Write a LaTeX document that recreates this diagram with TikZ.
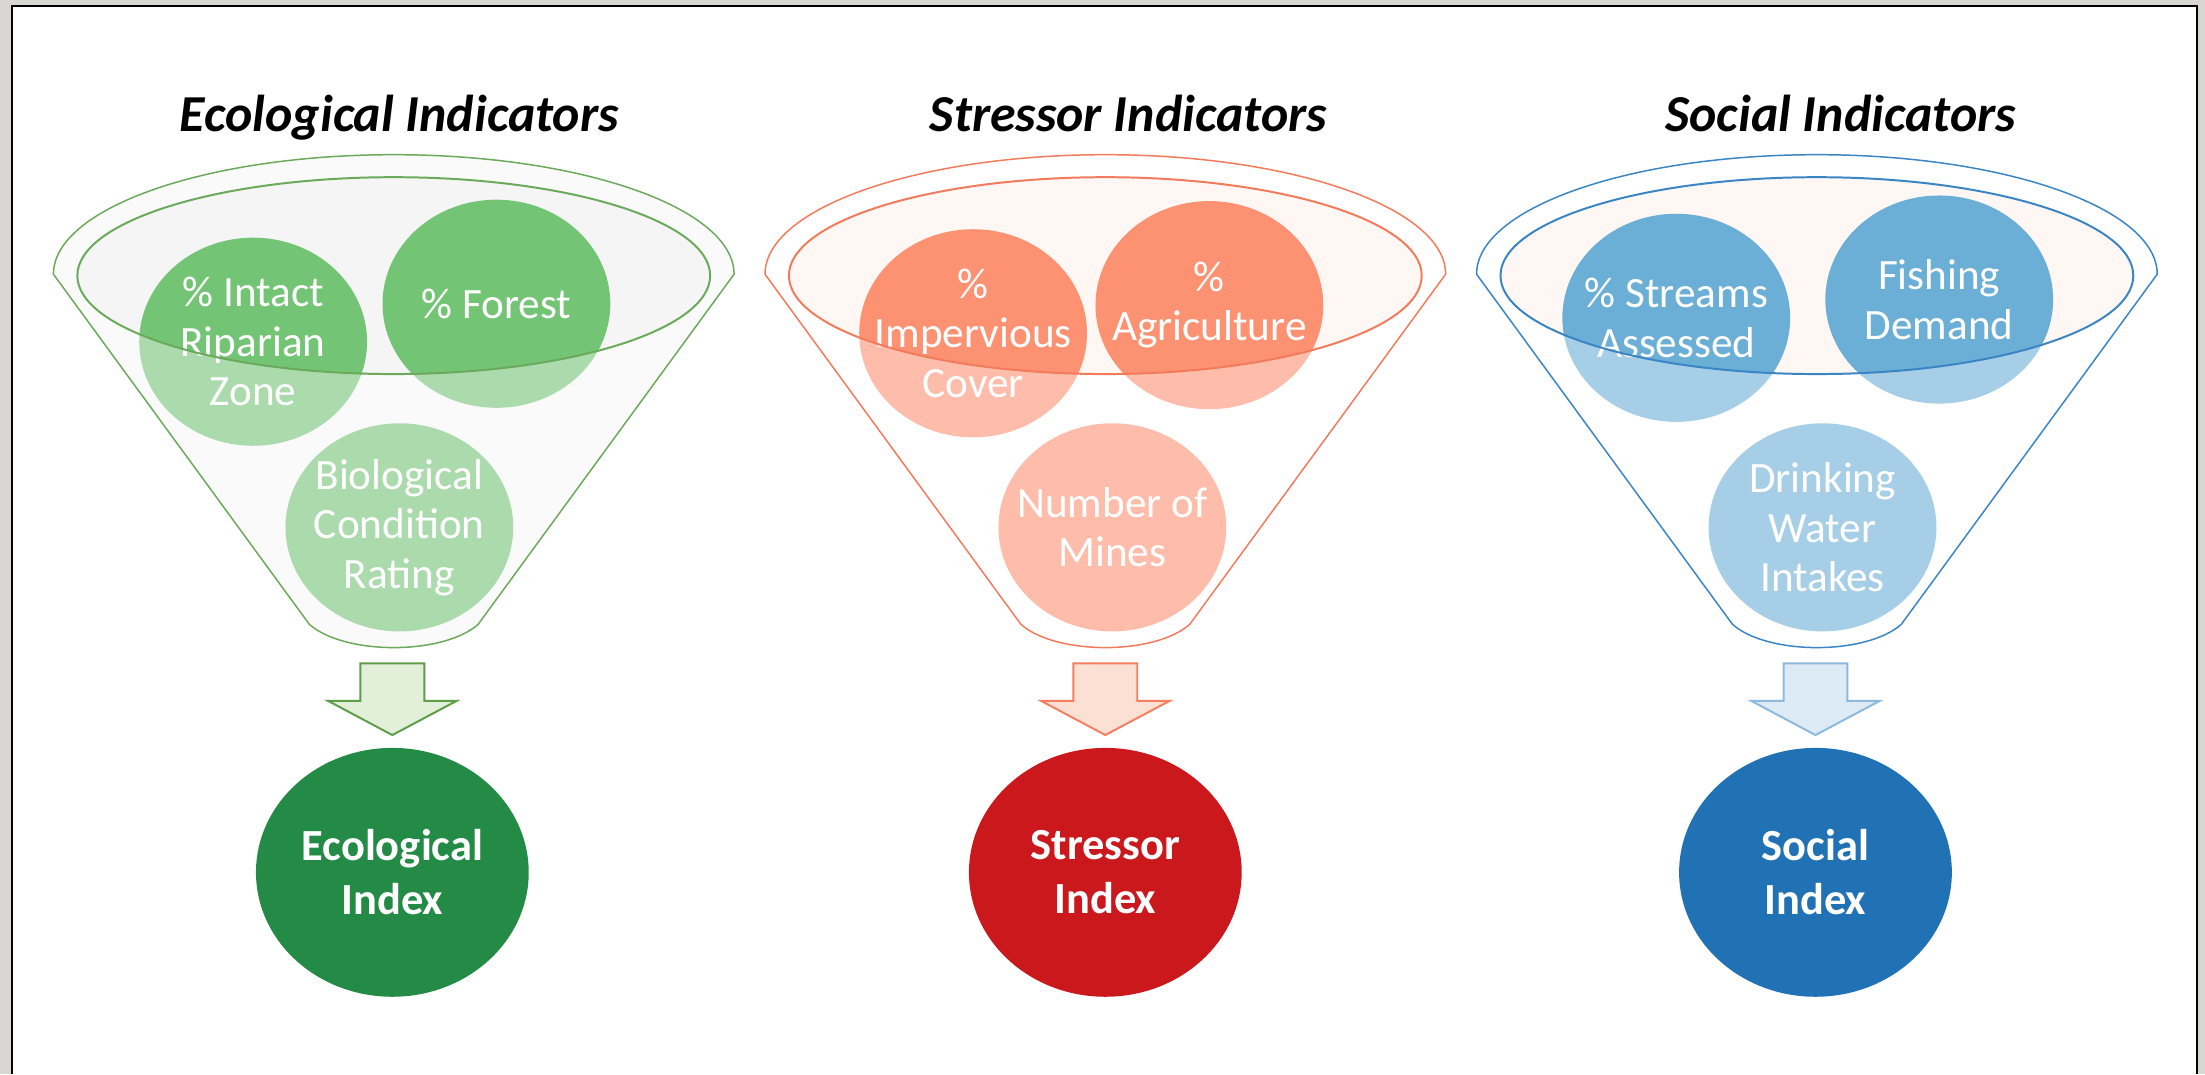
\documentclass[tikz,border=0pt]{standalone}
\usepackage{fontspec}
\setmainfont{Carlito}
\usetikzlibrary{positioning, shapes.geometric, shapes.arrows}

\definecolor{bgGray}{HTML}{D9D7D3}
\definecolor{ecoC}{HTML}{74C476}
\definecolor{strC}{HTML}{FC9272}
\definecolor{socC}{HTML}{6BAED6}
\definecolor{ecoD}{HTML}{238B45}
\definecolor{strD}{HTML}{CB181D}
\definecolor{socD}{HTML}{2171B5}
\definecolor{ecoL}{HTML}{6AAA5A}
\definecolor{strL}{HTML}{F47A5C}
\definecolor{socL}{HTML}{3A85C4}
\definecolor{ecoB}{HTML}{F7F7F7}
\definecolor{ecoM}{HTML}{F5F5F5}
\definecolor{strM}{HTML}{FFF7F3}
\definecolor{socM}{HTML}{FFF7F3}
\definecolor{ecoA}{HTML}{E2F0D9}
\definecolor{strA}{HTML}{FDE0D4}
\definecolor{socA}{HTML}{DDEBF7}
\definecolor{ecoE}{HTML}{5E9E4A}
\definecolor{strE}{HTML}{F47F62}
\definecolor{socE}{HTML}{8CB9DE}

% funnel outline and its mouth, #1 = centre x
\newcommand{\funnel}[1]{(#1-242,-195) arc[start angle=180, end angle=0, x radius=242, y radius=85] -- (#1+60,-444) .. controls (#1+35,-466) and (#1-35,-466) .. (#1-60,-444) -- cycle}
\newcommand{\funnelrim}[1]{(#1,-196) ellipse[x radius=225, y radius=70]}
% indicator bubble: name, x, y, colour, text
\newcommand{\indic}[5]{\fill[#4] (#2,#3) ellipse[x radius=81, y radius=74]; \node[lbl] (#1) at (#2,#3) {#5};}

\begin{document}
\begin{tikzpicture}[x=0.02cm, y=0.02cm,
	ttl/.style={font=\bfseries\itshape\fontsize{21}{25}\selectfont, anchor=base},
	lbl/.style={text=white, align=center, inner sep=0, font=\fontsize{17.5}{20}\selectfont},
	arr/.style={single arrow, rotate=-90, anchor=tail, inner xsep=0, inner ysep=0.44cm, minimum height=1.02cm, single arrow head extend=0.46cm, single arrow tip angle=124, line width=0.8pt},
	idx/.style={ellipse, inner sep=0, minimum width=3.88cm, minimum height=3.54cm, text=white, align=center, font=\bfseries\fontsize{18}{22}\selectfont}]
		\useasboundingbox (0,0) rectangle (1568,-764);
		\fill[bgGray] (0,0) rectangle (1568,-764);
		\fill[white] (8.3,-4) rectangle (1562,-764);
		\draw[line width=0.8pt] (8.3,-764) |- (1562,-4) -- (1562,-764);

		\foreach \cx/\bodyc/\mouthc in {280/ecoB/ecoM, 786/white/strM, 1292/white/socM} {
			\fill[\bodyc] \funnel{\cx};
			\fill[\mouthc] \funnelrim{\cx};
		}

		\indic{intact}{180}{-243}{ecoC}{\% Intact\\Riparian\\Zone}
		\indic{forest}{353}{-216}{ecoC}{\% Forest}
		\indic{bio}{284}{-375}{ecoC}{Biological\\Condition\\Rating}
		\indic{imperv}{692}{-237}{strC}{\%\\Impervious\\Cover}
		\indic{agri}{860}{-217}{strC}{\%\\Agriculture}
		\indic{mines}{791}{-375}{strC}{Number of\\Mines}
		\indic{streams}{1192}{-226}{socC}{\% Streams\\Assessed}
		\indic{fishing}{1379}{-213}{socC}{Fishing\\Demand}
		\indic{drinking}{1296}{-375}{socC}{Drinking\\Water\\Intakes}

		\foreach \cx/\edge in {280/ecoL, 786/strL, 1292/socL} {
			\fill[white, fill opacity=0.4, even odd rule] \funnel{\cx} \funnelrim{\cx};
			\draw[\edge, line width=0.6pt] \funnel{\cx};
			\draw[\edge, line width=0.8pt] \funnelrim{\cx};
		}

		\node[ttl] (ecoT) at (284,-93.7) {Ecological Indicators};
		\node[ttl] (strT) at (802.5,-93.7) {Stressor Indicators};
		\node[ttl] (socT) at (1309,-93.7) {Social Indicators};

		\node[arr, fill=ecoA, draw=ecoE] (ecoArr) at (279,-471) {};
		\node[arr, fill=strA, draw=strE] (strArr) at (786,-471) {};
		\node[arr, fill=socA, draw=socE] (socArr) at (1291,-471) {};

		\node[idx, fill=ecoD, below=0.16cm of ecoArr.tip] (ecoIdx) {Ecological\\Index};
		\node[idx, fill=strD, below=0.16cm of strArr.tip] (strIdx) {Stressor\\Index};
		\node[idx, fill=socD, below=0.16cm of socArr.tip] (socIdx) {Social\\Index};
	\end{tikzpicture}
\end{document}
